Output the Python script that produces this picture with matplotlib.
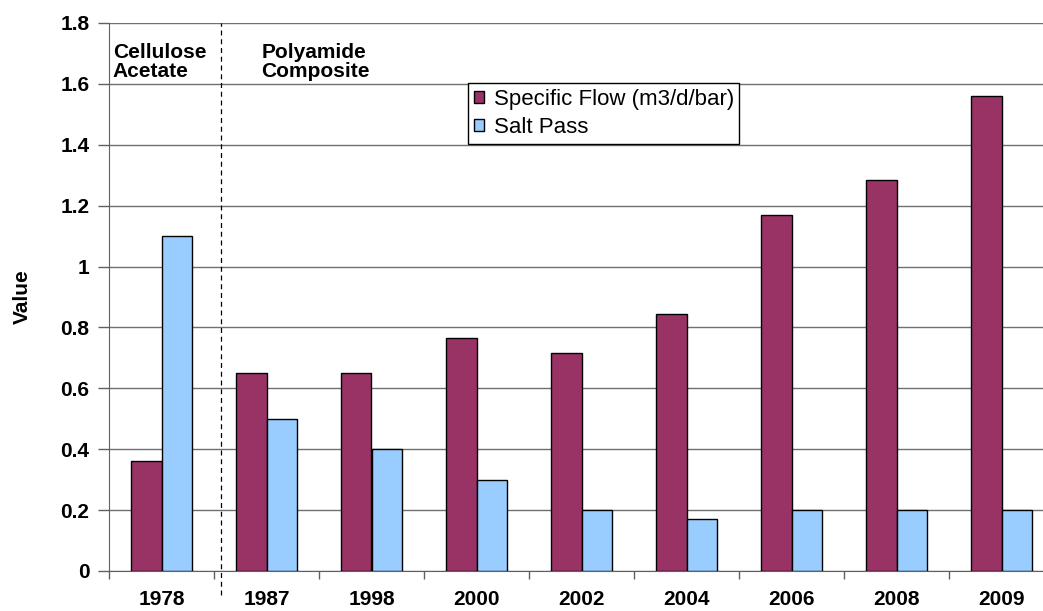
import numpy as np
import matplotlib.pyplot as plt

plt.rcParams['font.family'] = ['Liberation Sans', 'DejaVu Sans']

## Data ##
years = ['1978', '1987', '1998', '2000', '2002', '2004', '2006', '2008', '2009']
spec_flow = [0.36, 0.65, 0.65, 0.765, 0.715, 0.845, 1.17, 1.285, 1.56]
salt_pass = [1.1, 0.5, 0.4, 0.3, 0.2, 0.17, 0.2, 0.2, 0.2]

c_flow = '#993366'
c_salt = '#99ccff'
fs = 15                                                                         # taille police gras

fig = plt.figure(figsize=(10.43, 6.11), dpi=100)
ax = fig.add_axes([109 / 1043, 40 / 611, 945 / 1043, 548 / 611])   # axe coupe a droite comme l'original

x = np.arange(len(years))
w = 0.29
ax.bar(x - w / 2, spec_flow, w, color=c_flow, edgecolor='black', linewidth=1,
       label='Specific Flow (m3/d/bar)', zorder=3)
ax.bar(x + w / 2, salt_pass, w, color=c_salt, edgecolor='black', linewidth=1,
       label='Salt Pass', zorder=3)

ax.set_xlim(-0.5, len(years) - 0.5)
ax.set_ylim(0, 1.8)
ax.set_yticks(np.arange(0, 1.81, 0.2))
ax.set_yticklabels(['0', '0.2', '0.4', '0.6', '0.8', '1', '1.2', '1.4', '1.6', '1.8'])
ax.yaxis.grid(True, color='#707070', linewidth=1, zorder=0)

# ticks aux frontieres, labels au centre
ax.set_xticks(x)
ax.set_xticklabels(years)
ax.set_xticks(np.arange(-0.5, len(years), 1), minor=True)
ax.tick_params(axis='x', which='major', length=0, pad=14)
ax.tick_params(axis='x', which='minor', length=6, width=1, color='#606060', direction='out')
ax.tick_params(axis='y', length=8, width=1, color='#606060', direction='out', pad=6)
for lab in ax.get_xticklabels() + ax.get_yticklabels():
    lab.set_fontweight('bold')
    lab.set_fontsize(fs)

for s in ['top', 'right']:
    ax.spines[s].set_visible(False)
ax.spines['left'].set_color('#606060')
ax.spines['bottom'].set_color('#606060')

ax.set_ylabel('Value', fontsize=fs, fontweight='bold')
ax.yaxis.set_label_coords(-0.082, 0.5)

# separation acetate / polyamide
ax.axvline(0.567, ymin=-0.044, ymax=1, color='black', linestyle=(0, (4, 3)),
           linewidth=0.9, clip_on=False, zorder=4)
ax.text(-0.465, 1.735, 'Cellulose\nAcetate', fontsize=fs, fontweight='bold',
        va='top', ha='left', linespacing=1.0)
ax.text(0.95, 1.735, 'Polyamide\nComposite', fontsize=fs, fontweight='bold',
        va='top', ha='left', linespacing=1.0)

leg = ax.legend(loc='upper left', bbox_to_anchor=(359 / 945, 1 - 60 / 548), fontsize=16,
                frameon=True, fancybox=False, edgecolor='black', framealpha=1,
                handlelength=0.45, handleheight=0.45, handletextpad=0.45,
                borderpad=0.25, labelspacing=0.35, borderaxespad=0)
leg.get_frame().set_linewidth(1)
leg.set_zorder(5)

plt.savefig('out.png', dpi=100)
